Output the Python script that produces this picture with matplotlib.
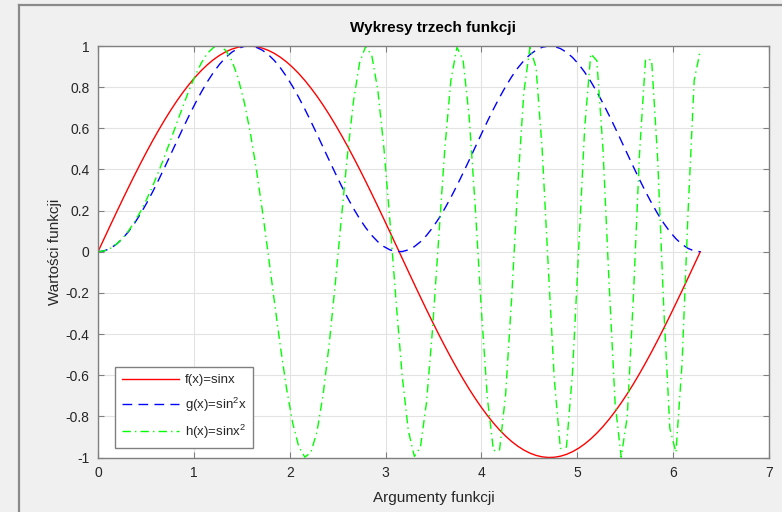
import matplotlib
matplotlib.use("Agg")
import matplotlib.pyplot as plt
from matplotlib.lines import Line2D
import numpy as np

plt.rcParams["font.family"] = ["Liberation Sans", "DejaVu Sans"]
plt.rcParams["mathtext.fontset"] = "custom"
plt.rcParams["mathtext.rm"] = "Liberation Sans"

# ── data ─────────────────────────────────────────────────────────────────────
x = np.linspace(0, 2 * np.pi, 100)
f = np.sin(x)          # f(x) = sin x
g = np.sin(x) ** 2     # g(x) = sin^2 x
h = np.sin(x ** 2)     # h(x) = sin x^2

xticks = [0, 1, 2, 3, 4, 5, 6, 7]
yticks = [-1, -0.8, -0.6, -0.4, -0.2, 0, 0.2, 0.4, 0.6, 0.8, 1]
ytick_labels = ["-1", "-0.8", "-0.6", "-0.4", "-0.2", "0", "0.2", "0.4", "0.6", "0.8", "1"]
labels = ["f(x)=sinx", r"g(x)=sin$\mathregular{^2}$x", r"h(x)=sinx$\mathregular{^2}$"]

BG = "#f0f0f0"
AXC = "#808080"
TXT = "#262626"

fig = plt.figure(figsize=(7.82, 5.12), dpi=100, facecolor=BG)
ax = fig.add_axes([98 / 782, 1 - 457.5 / 512, (769 - 98) / 782, (457.5 - 46) / 512])

# window frame lines (left and top)
fig.add_artist(Line2D([19 / 782, 19 / 782], [0, 1 - 5 / 512], transform=fig.transFigure,
                      color="#8a8a8a", lw=1.6))
fig.add_artist(Line2D([19 / 782, 1], [1 - 5 / 512, 1 - 5 / 512], transform=fig.transFigure,
                      color="#8a8a8a", lw=1.6))

ax.plot(x, f, "-", color="#ff0000", lw=1.0, label=labels[0])
ax.plot(x, g, "--", color="#0000ff", lw=1.0, dashes=(7, 4.5), label=labels[1])
ax.plot(x, h, "-.", color="#00ff00", lw=1.0, dashes=(6, 3, 1, 3), label=labels[2])

ax.set_xlim(0, 7)
ax.set_ylim(-1, 1)
ax.set_xticks(xticks)
ax.set_xticklabels([str(t) for t in xticks])
ax.set_yticks(yticks)
ax.set_yticklabels(ytick_labels)
ax.grid(True, color="#e3e3e3", lw=0.8)
ax.set_axisbelow(True)
ax.tick_params(direction="in", length=4, width=0.8, colors=AXC, labelcolor=TXT,
               labelsize=10, top=True, right=True, pad=6)
for s in ax.spines.values():
    s.set_color(AXC)
    s.set_linewidth(1.0)

ax.set_title("Wykresy trzech funkcji", fontsize=11, fontweight="bold", color="black", pad=10)
ax.set_xlabel("Argumenty funkcji", fontsize=11, color=TXT, labelpad=8)
ax.set_ylabel("Wartości funkcji", fontsize=11, color=TXT, labelpad=3)

leg = ax.legend(loc="lower left", bbox_to_anchor=(0.016, 0.008), fontsize=9.5,
                fancybox=False, framealpha=1, edgecolor=AXC, handlelength=4.3,
                handletextpad=0.5, borderpad=0.5, labelspacing=0.7)
leg.get_frame().set_linewidth(1.0)
for t in leg.get_texts():
    t.set_color(TXT)

fig.savefig("out.png", dpi=100, facecolor=BG)
